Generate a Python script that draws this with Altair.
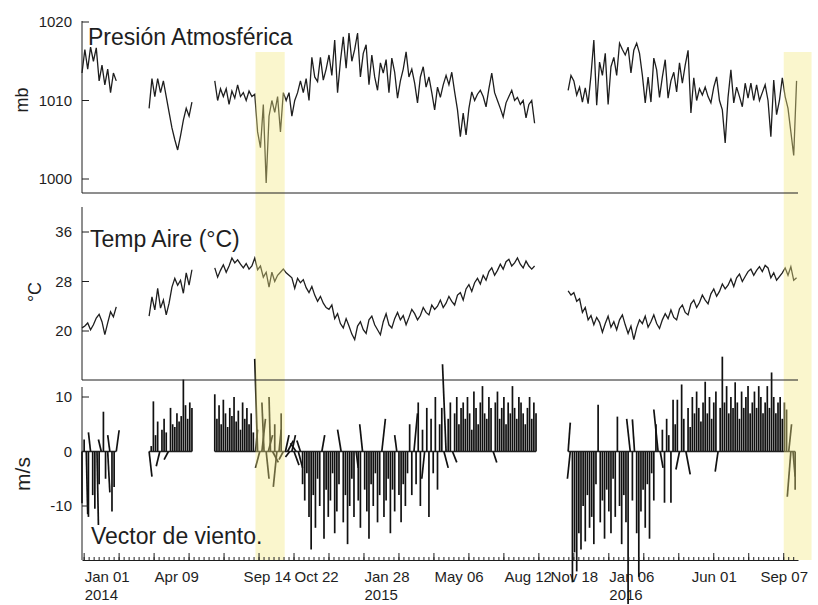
import altair as alt
import pandas as pd

FONT = "Liberation Sans"
INK = "#1e1e1e"
BAND = "#f2e882"

# Shared plot area (all three panels live in one layered view)
W, H = 716, 539

LINE_STEP = 4      # days between plotted pressure / temperature samples
WIND_STEP = 3      # days between plotted wind sticks
DAYS_PER_MS = 1.0  # horizontal stick extent per m/s of east-west wind

# First day of each continuous record block
seg_start = ["2013-12-29", "2014-04-02", "2014-07-03", "2015-11-10"]

# ---- Atmospheric pressure (mb) ----
p1 = [1013.5, 1016.5, 1014.0, 1016.8, 1015.0, 1016.7, 1012.5, 1014.5, 1012.0, 1014.0,
      1011.0, 1013.5, 1012.5]
p2 = [1009.0, 1012.8, 1010.5, 1012.8, 1011.0, 1012.5, 1010.5, 1008.5, 1006.5, 1005.0,
      1003.7, 1005.5, 1007.5, 1009.0, 1008.0, 1009.8]
p3 = [1012.5, 1010.0, 1011.5, 1010.5, 1011.5, 1009.5, 1011.2, 1010.3, 1012.0, 1010.5,
      1011.0, 1010.0, 1011.2, 1010.5, 1010.8, 1006.0, 1004.0, 1009.5, 999.5, 1008.0,
      1010.0, 1008.5, 1010.5, 1006.0, 1011.0, 1010.0, 1011.0, 1008.0, 1010.0, 1011.0,
      1012.5, 1011.0, 1012.8, 1010.0, 1015.5, 1013.0, 1012.4, 1015.5, 1012.6, 1014.0,
      1015.8, 1013.2, 1017.7, 1011.0, 1015.0, 1018.1, 1014.1, 1018.6, 1015.0, 1016.5,
      1018.6, 1013.0, 1016.0, 1017.1, 1012.0, 1015.8, 1013.0, 1011.3, 1014.8, 1013.5,
      1015.2, 1011.0, 1015.4, 1013.6, 1010.3, 1012.5, 1014.0, 1016.2, 1013.0, 1014.0,
      1012.2, 1009.7, 1013.0, 1014.3, 1011.7, 1013.0, 1011.0, 1008.8, 1011.7, 1010.4,
      1012.0, 1013.2, 1012.0, 1013.6, 1011.1, 1008.8, 1005.4, 1008.4, 1005.6, 1009.0,
      1011.1, 1010.0, 1010.8, 1011.3, 1010.5, 1009.2, 1011.5, 1013.5, 1011.0, 1010.0,
      1009.0, 1007.9, 1009.7, 1010.5, 1011.3, 1010.0, 1010.4, 1009.5, 1010.0, 1007.8,
      1009.5, 1010.0, 1007.1]
p4 = [1011.3, 1013.2, 1012.5, 1010.7, 1011.7, 1009.8, 1011.6, 1009.6, 1013.2, 1017.7,
      1009.4, 1014.9, 1013.2, 1016.0, 1009.5, 1014.3, 1015.5, 1013.2, 1017.3, 1016.5,
      1015.8, 1016.8, 1013.5, 1016.4, 1017.3, 1016.0, 1013.2, 1009.7, 1013.0, 1009.8,
      1015.4, 1013.9, 1010.4, 1013.0, 1015.2, 1010.3, 1012.5, 1013.6, 1011.1, 1014.8,
      1012.2, 1014.5, 1016.4, 1008.4, 1012.9, 1010.0, 1011.5, 1010.7, 1011.7, 1010.5,
      1009.7, 1011.7, 1013.0, 1010.0, 1008.8, 1004.6, 1010.4, 1013.9, 1009.7, 1011.7,
      1010.5, 1009.2, 1012.2, 1010.3, 1012.2, 1010.0, 1012.0, 1010.0, 1011.0, 1012.0,
      1010.0, 1005.4, 1012.6, 1008.2, 1010.0, 1012.9, 1010.5, 1009.0, 1006.0, 1003.0,
      1012.5]

# ---- Air temperature (deg C) ----
t1 = [20.5, 20.8, 21.3, 20.2, 21.0, 22.1, 22.7, 21.5, 19.4, 21.3, 23.1, 22.3, 23.9]
t2 = [22.4, 25.5, 23.4, 26.9, 23.7, 25.0, 22.6, 24.5, 27.1, 28.5, 27.4, 28.2, 26.1,
      29.4, 27.4, 29.9]
t3 = [30.2, 28.7, 29.8, 30.7, 29.5, 30.5, 31.8, 31.0, 31.5, 30.8,
      30.2, 30.9, 30.0, 30.5, 31.8, 29.9, 30.5, 28.7, 29.5, 27.1,
      29.5, 28.0, 29.0, 29.5, 30.0, 29.4, 29.0, 28.6, 26.9, 28.5,
      27.8, 28.3, 27.0, 26.2, 27.2, 25.8, 24.8, 25.6, 24.5, 23.8,
      23.5, 24.2, 22.0, 22.8, 21.2, 20.5, 22.0, 20.8, 19.5, 18.6,
      20.8, 21.5, 20.2, 19.6, 21.8, 22.4, 21.0, 20.2, 19.4, 21.5,
      22.8, 21.0, 20.5, 22.0, 23.0, 21.8, 22.5, 21.0, 22.2, 23.5,
      22.8, 21.8, 22.5, 23.8, 23.0, 22.6, 24.2, 23.5, 24.0, 25.0,
      23.8, 24.5, 25.6, 24.8, 24.2, 25.8, 26.2, 25.0, 26.8, 27.5,
      26.4, 27.8, 28.5, 27.6, 29.0, 28.2, 29.6, 30.2, 29.0, 29.8,
      30.8, 30.0, 31.2, 31.6, 30.5, 31.0, 31.8, 30.8, 30.2, 31.3,
      30.5, 30.0, 30.5]
t4 = [26.5, 25.8, 26.2, 24.8, 25.2, 23.0, 23.8, 21.8, 22.5, 21.0,
      22.2, 21.4, 19.8, 21.2, 22.4, 20.6, 21.5, 20.2, 21.8, 22.6,
      21.0, 19.6, 20.8, 18.6, 20.5, 21.8, 21.2, 22.4, 20.6, 21.5,
      22.6, 21.2, 20.4, 21.8, 22.8, 22.0, 23.4, 22.2, 21.8, 23.6,
      24.2, 23.0, 22.6, 24.4, 25.0, 23.8, 24.6, 25.8, 25.0, 24.4,
      26.0, 26.8, 25.6, 26.4, 27.6, 26.8, 27.4, 28.4, 27.2, 28.6,
      29.2, 28.0, 28.8, 29.6, 30.0, 29.0, 29.8, 30.4, 29.6, 30.6,
      30.2, 28.6, 29.4, 28.2, 28.8, 29.4, 30.2, 29.0, 30.4, 28.2,
      28.6]

# ---- Wind vector: north-south (v) and east-west (u) components, m/s ----
v1 = [-9.5, 2.2, -11.5, -12.0, 3.5, -8.0, -10.5, -13.5, -6.0, 2.2, 7.3, -5.0, -7.5,
      3.0, -11.0, -6.5, 3.9]
u1 = [0, 0, 2, 0, -3, 0, 0, 2, 0, -4, 0, 0, 3, -3, 0, 0, 4]
v2 = [-4.6, 1.0, 9.2, 3.0, 5.5, -2.7, 4.0, 6.0, 3.5, -1.5, 8.0, 5.0, 4.5, 7.0, 5.5,
      6.5, 13.2, 8.5, 6.0, 9.0, 8.0]
u2 = [4, 0, 0, 0, 0, -5, 0, 0, 0, -6, 0, 0, 0, 0, 0, 0, 0, 0, 0, 0, 0]
v3 = [10.5, 6.0, 8.5, 5.0, 9.5, 7.0, 4.5, 8.0, 6.5, 10.0,
      5.5, 7.5, 4.0, 9.0, 6.0, 8.0, 5.0, 7.0, 3.5,
      4.0, 17.0, -3.0, 6.0, 9.0, -5.0, 3.0, 10.0, -2.0, 5.0, -6.5, 4.0, 7.0, -1.5, 3.0,
      2.0, -1.0, 3.0, -2.5, 1.5, -3.0, 2.0,
      -6, -9, -4, -12, -18, -8, -14, -5, -10, 3,
      -16, -7, -12, -9, -4, -15, -11, -6, 4, -13,
      -8, -17, -10, -5, -12, -3, -9, -14, 5, -7,
      -11, -16, -6, -10, -4, -13, -8, 6, -12, -9,
      -5, -15, -7, -11, 3, -8, -13, -6, -10, -4,
      5, -8, 7, -6, 9, -10, 4, -5, 8, -12,
      6, -4, 10, -7, 5, 8, -3, 16, 6, 9,
      -2, 7, 10, 5, 8,
      9, 6, 10, 7, 4, 11, 8, 5, 9, 12,
      7, 6, 10, 8, -2, 9, 11, 6, 8, 10,
      5, 9, 7, 12, 8, 6, 10, 9, 7, 5,
      8, 10, 6, 9, 7]
u3 = [0, 0, 0, 0, 0, 0, 0, 0, 0, 0,
      0, 0, 0, 0, 0, 0, 0, 0, 0,
      3, -4, -6, 5, -3, 4, 6, -2, 8, 0, -5, 3, 0, -6, 5,
      8, -6, 5, 7, -8, 6, -5,
      0, 0, 0, 0, 0, 0, 0, 0, 0, 4,
      0, 0, 0, 0, 0, 0, 0, 0, -5, 0,
      0, 0, 0, 0, 0, 3, 0, 0, -4, 0,
      0, 0, 0, 0, 0, 0, 0, 5, 0, 0,
      0, 0, 0, 0, -3, 0, 0, 0, 0, 0,
      0, 0, 5, 0, 0, 0, 0, -4, 0, 0,
      0, 0, 0, 0, 0, 0, 6, -5, 0, 0,
      6, 0, 0, 0, 0,
      0, 0, 0, 0, 0, 0, 0, 0, 0, 0,
      0, 0, 0, 0, 5, 0, 0, 0, 0, 0,
      0, 0, 0, 0, 0, 0, 0, 0, 0, 0,
      0, 0, 0, 0, 0]
v4 = [5.3, -5.0, -24.0, -18.5,
      -22.0, -15.0, -18.0, -10.0, -16.5, -8.0, -14.0, -12.0, -17.0, -6.0,
      8.6,
      -13.0, -9.0, -16.0, -7.0, -11.0, -15.0, -5.0, -12.0,
      6.4,
      -10.0, -17.0, -8.0, -13.0,
      -28.0,
      6.0,
      -9.0, 5.9, -15.0, -23.0,
      -11.0, -7.0, -14.0, -6.0, -16.0, -4.0, -9.0,
      5.0, 7.7, -3.0, 4.0, -9.4, 6.0, 3.0, -9.4, 9.5, 5.0,
      9.5, -3.3, 12.3, 6.0, -4.2, 8.0, 4.5, 10.0, 7.0, 11.0,
      8.0, 5.5, 9.0, 12.8, 7.0, 10.0, 6.0, 9.0, 11.0, -3.7,
      8.0, 17.4, 9.0, 12.0, 7.0, 10.0, 8.0, 12.7, 9.0, 6.0,
      11.0, 8.0, 10.0, 12.0, 7.0, 9.0, 11.0, 8.0, 12.0, 10.0,
      7.0, 9.0, 12.0, 8.0, 14.5, 10.0, 7.0, 9.0, 10.0, 6.0,
      9.0, 7.7, 5.0, -8.3, -4.6, -7.0]
u4 = [3, -4, 0, 0, 0, 0, 0, 0, 0, 0,
      0, 0, 0, 0, 0, 0, 0, 0, 0, 0,
      0, 0, 0, 0, 0, 0, 0, 0, 0, -5,
      0, -3, 0, 0, 0, 0, 0, 0, 0, 0,
      0, 0, -6, 4, 0, 0, 0, 0, 0, 0,
      0, 0, -5, 0, 0, 6, 0, 0, 0, 0,
      0, 0, 0, 0, 0, 0, 0, 0, 0, 0,
      -4, 0, 0, 0, 0, 0, 0, 0, 0, 0,
      0, 0, 0, 0, 0, 0, 0, 0, 0, 0,
      0, 0, 0, 0, 0, 0, 0, 0, 0, 0,
      0, 0, 0, 4, -5, 3, 0]

# Highlighted storm periods
band_start = ["2014-08-29", "2016-09-07"]
band_end = ["2014-10-09", "2016-10-16"]

# Axis ticks and labels
p_ticks, p_labels = [1000, 1010, 1020], ["1000", "1010", "1020"]
t_ticks, t_labels = [20, 28, 36], ["20", "28", "36"]
w_ticks, w_labels = [-10, 0, 10], ["-10", "0", "10"]
label_dates = ["2014-01-01", "2014-04-09", "2014-09-14", "2014-10-22", "2015-01-28",
               "2015-05-06", "2015-08-12", "2015-11-18", "2016-01-06", "2016-06-01",
               "2016-09-07"]
centered_labels = ["2014-09-14", "2015-11-18", "2016-06-01", "2016-09-07"]


def blocks_frame(blocks, step, name):
    frames = []
    for i, (start, vals) in enumerate(zip(seg_start, blocks)):
        d = pd.date_range(start, periods=len(vals), freq=f"{step}D")
        frames.append(pd.DataFrame({"date": d, name: vals, "seg": i}))
    return pd.concat(frames, ignore_index=True)


p_df = blocks_frame([p1, p2, p3, p4], LINE_STEP, "p")
t_df = blocks_frame([t1, t2, t3, t4], LINE_STEP, "t")
w_df = blocks_frame([v1, v2, v3, v4], WIND_STEP, "v")
w_df["u"] = u1 + u2 + u3 + u4
w_df["date2"] = w_df["date"] + pd.to_timedelta(w_df["u"] * DAYS_PER_MS, unit="D")
w_df["zero"] = 0.0
base_df = w_df.groupby("seg").agg(start=("date", "min"), end=("date", "max")).reset_index()
base_df["zero"] = 0.0

band_df = pd.DataFrame({"start": pd.to_datetime(band_start), "end": pd.to_datetime(band_end)})
minor_df = pd.DataFrame({"t": pd.date_range("2014-01-01", "2016-09-27", freq="7D")})
major_df = pd.DataFrame({"t": pd.date_range("2014-01-01", "2016-09-27", freq="49D")})
one = pd.DataFrame({"k": [0]})


def dt(s):
    y, m, d = (int(x) for x in s.split("-"))
    return alt.DateTime(year=y, month=m, date=d)


x_scale = alt.Scale(domain=[dt("2013-12-29"), dt("2016-09-27")], nice=False)
centered_js = "[" + ",".join(f"'{d}'" for d in centered_labels) + "]"
x_axis = alt.Axis(
    values=[dt(s) for s in label_dates],
    labelExpr="month(datum.value) == 0 ? [timeFormat(datum.value, '%b %d'), "
              "timeFormat(datum.value, '%Y')] : timeFormat(datum.value, '%b %d')",
    labelAlign={"condition": {"test": f"indexof({centered_js}, timeFormat(datum.value, '%Y-%m-%d')) >= 0",
                              "value": "center"}, "value": "left"},
    labelBaseline="top", labelPadding=9, labelFontSize=15, labelFont=FONT,
    labelColor=INK, labelLineHeight=18, labelOverlap=False, labelFlush=False,
    labelBound=False, ticks=False, grid=False, domain=True, domainColor=INK,
    domainWidth=1, title=None,
)


def X(field):
    return alt.X(f"{field}:T", scale=x_scale, axis=x_axis)


p_scale = alt.Scale(domain=[1000, 1020], range=[158, 1], nice=False, zero=False)
t_scale = alt.Scale(domain=[20, 36], range=[310, 211], nice=False, zero=False)
w_scale = alt.Scale(domain=[-10, 10], range=[485, 376], nice=False, zero=False)

layers = []

# Data
layers.append(alt.Chart(p_df).mark_line(color=INK, strokeWidth=1.3).encode(
    x=X("date"), y=alt.Y("p:Q", scale=p_scale, axis=None), detail="seg:N"))
layers.append(alt.Chart(t_df).mark_line(color=INK, strokeWidth=1.3).encode(
    x=X("date"), y=alt.Y("t:Q", scale=t_scale, axis=None), detail="seg:N"))
layers.append(alt.Chart(w_df).mark_rule(color="#111111", strokeWidth=1.7).encode(
    x=X("date"), x2="date2:T", y=alt.Y("zero:Q", scale=w_scale, axis=None), y2="v:Q"))
layers.append(alt.Chart(base_df).mark_rule(color=INK, strokeWidth=1.5).encode(
    x=X("start"), x2="end:T", y=alt.Y("zero:Q", scale=w_scale, axis=None)))

# Storm bands across all panels
layers.append(alt.Chart(band_df).mark_rect(color=BAND, opacity=0.4).encode(
    x=X("start"), x2="end:T", y=alt.value(31), y2=alt.value(H)))

# Inward time ticks on the bottom axis
layers.append(alt.Chart(minor_df).mark_rule(color=INK, strokeWidth=1).encode(
    x=X("t"), y=alt.value(H), y2=alt.value(H - 3)))
layers.append(alt.Chart(major_df).mark_rule(color=INK, strokeWidth=1).encode(
    x=X("t"), y=alt.value(H), y2=alt.value(H - 7)))

# Panel frames: left spines and bottom lines of the upper panels
for top, bottom in [(0, 172), (186, 359), (366, H)]:
    layers.append(alt.Chart(one).mark_rule(color=INK, strokeWidth=1).encode(
        x=alt.value(0), y=alt.value(top), y2=alt.value(bottom)))
for yline in [172, 359]:
    layers.append(alt.Chart(one).mark_rule(color=INK, strokeWidth=1).encode(
        x=alt.value(0), x2=alt.value(W), y=alt.value(yline)))

# y ticks (inward) and their labels
for ticks, labels, scale in [(p_ticks, p_labels, p_scale), (t_ticks, t_labels, t_scale),
                             (w_ticks, w_labels, w_scale)]:
    tdf = pd.DataFrame({"v": ticks, "lab": labels})
    layers.append(alt.Chart(tdf).mark_rule(color=INK, strokeWidth=1).encode(
        x=alt.value(0), x2=alt.value(7), y=alt.Y("v:Q", scale=scale, axis=None)))
    layers.append(alt.Chart(tdf).mark_text(align="right", baseline="middle", font=FONT,
                                           fontSize=15, color=INK).encode(
        x=alt.value(-10), y=alt.Y("v:Q", scale=scale, axis=None), text="lab:N"))

# y axis titles
for txt, xv, yv, size in [("mb", -59, 79, 18), ("°C", -46, 271, 18), ("m/s", -58, 453, 21)]:
    layers.append(alt.Chart(one).mark_text(text=txt, angle=270, align="center",
                                           baseline="middle", font=FONT, fontSize=size,
                                           color=INK).encode(
        x=alt.value(xv), y=alt.value(yv)))

# Panel titles
for txt, xv, yv in [("Presión Atmosférica", 6, 23.5), ("Temp Aire (°C)", 8, 225.5),
                    ("Vector de viento.", 9, 522.5)]:
    layers.append(alt.Chart(one).mark_text(text=txt, align="left", baseline="alphabetic",
                                           font=FONT, fontSize=23, color=INK).encode(
        x=alt.value(xv), y=alt.value(yv)))

chart = (
    alt.layer(*layers)
    .resolve_scale(y="independent")
    .properties(width=W, height=H, autosize=alt.AutoSizeParams(type="none"),
                padding={"left": 82, "top": 21, "right": 20, "bottom": 45},
                background="white")
    .configure_view(stroke=None)
)

chart.save("out.html", embed_options={"renderer": "svg", "actions": False})
